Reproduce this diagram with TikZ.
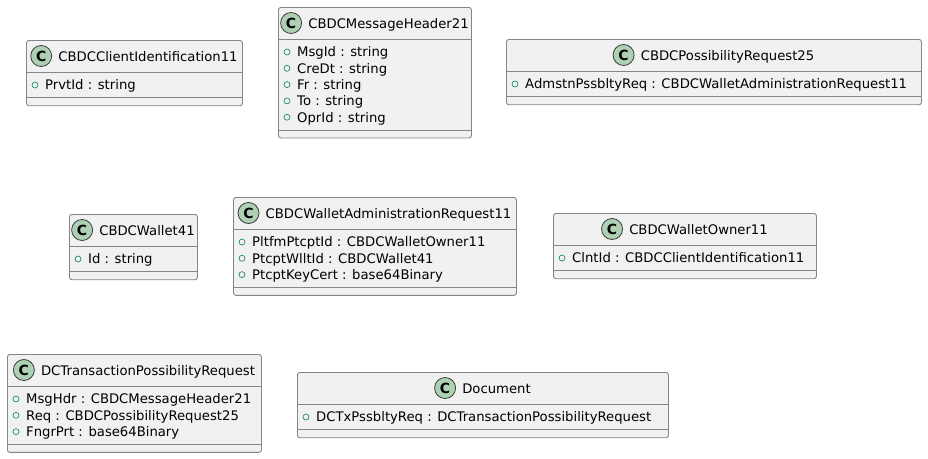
\documentclass[tikz,border=0pt]{standalone}
\usepackage{fontspec}
\setmainfont{DejaVu Sans}
\usetikzlibrary{positioning, calc}

\definecolor{umlfill}{HTML}{F1F1F1}
\definecolor{umlborder}{HTML}{858585}
\definecolor{spotborder}{HTML}{3A3A3A}
\definecolor{spotfill}{HTML}{ADD1B2}
\definecolor{visgreen}{HTML}{038048}

\tikzset{
  classbox/.style={rectangle, draw=umlborder, fill=umlfill, rounded corners=2.5pt,
    line width=0.9pt, anchor=north west, inner sep=0pt},
  sepline/.style={draw=umlborder, line width=0.9pt},
  spot/.style={circle, draw=spotborder, fill=spotfill, minimum size=21pt, inner sep=0pt,
    line width=0.8pt, font=\fontsize{14}{14}\selectfont\bfseries},
  vis/.style={circle, draw=visgreen, minimum size=6pt, inner sep=0pt, line width=0.6pt},
  title/.style={anchor=base, inner sep=0pt},
  attr/.style={anchor=base west, inner sep=0pt},
}

% one class: name, left, top, width, title, attributes
\newcommand{\umlclass}[6]{%
  \gdef\nrows{0}%
  \foreach \a [count=\k] in {#6} {\xdef\nrows{\k}}%
  \pgfmathsetmacro{\ysep}{#3+32}%
  \pgfmathsetmacro{\yatt}{\ysep+16.3*\nrows+9.5}%
  \pgfmathsetmacro{\boxh}{\yatt+7.5-#3}%
  \node[classbox, minimum width=#4pt, minimum height=\boxh pt] (#1) at (#2,#3) {};%
  \draw[sepline] (#2,\ysep) -- (#2+#4,\ysep);%
  \draw[sepline] (#2,\yatt) -- (#2+#4,\yatt);%
  \node[title] (#1-name) at (#2+#4/2+14,#3+21.5) {#5};%
  \node[spot] (#1-spot) at ($(#1-name.base west)+(-17,-5.5)$) {C};%
  \foreach \a [count=\k] in {#6} {%
    \pgfmathsetmacro{\yb}{\ysep+17.8+16.3*(\k-1)}%
    \node[vis] (#1-vis\k) at (#2+9,\yb-4.8) {};%
    \node[attr] (#1-attr\k) at (#2+19,\yb) {\a};%
  }%
}

\begin{document}
\begin{tikzpicture}[x=1pt, y=-1pt, font=\fontsize{13.2}{15.8}\selectfont]
\useasboundingbox (0,0) rectangle (928,458);
% top row
\umlclass{clientid}{26}{40}{216}{CBDCClientIdentification11}{PrvtId : string}
\umlclass{msghdr}{278}{7}{193}{CBDCMessageHeader21}{MsgId : string, CreDt : string, Fr : string, To : string, OprId : string}
\umlclass{possreq}{506}{39}{415}{CBDCPossibilityRequest25}{AdmstnPssbltyReq : CBDCWalletAdministrationRequest11}
% middle row
\umlclass{wallet}{69}{214}{128}{CBDCWallet41}{Id : string}
\umlclass{walletadm}{233}{197}{283}{CBDCWalletAdministrationRequest11}{PltfmPtcptId : CBDCWalletOwner11, PtcptWlltId : CBDCWallet41, PtcptKeyCert : base64Binary}
\umlclass{owner}{553}{213}{263}{CBDCWalletOwner11}{ClntId : CBDCClientIdentification11}
% bottom row
\umlclass{dctx}{7}{354}{254}{DCTransactionPossibilityRequest}{MsgHdr : CBDCMessageHeader21, Req : CBDCPossibilityRequest25, FngrPrt : base64Binary}
\umlclass{document}{297}{372}{371}{Document}{DCTxPssbltyReq : DCTransactionPossibilityRequest}
\end{tikzpicture}
\end{document}
